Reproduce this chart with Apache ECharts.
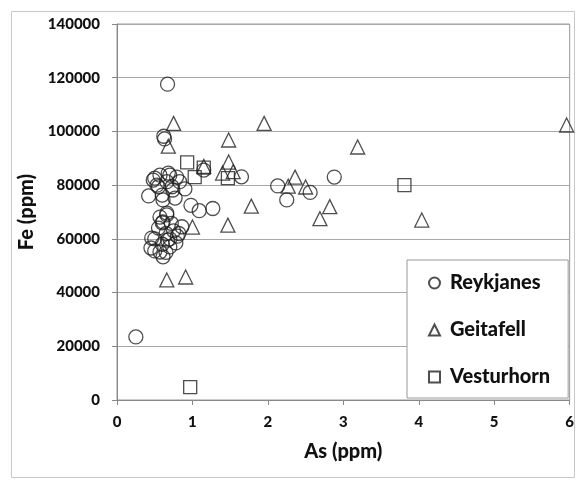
<!DOCTYPE html>
<html>
<head>
<meta charset="utf-8">
<script src="https://cdn.jsdelivr.net/npm/echarts@6/dist/echarts.min.js"></script>
<style>
  html, body { margin: 0; padding: 0; background: #fff; }
  #chart { width: 577px; height: 480px; }
</style>
</head>
<body>
<div id="chart"></div>
<script>
// As (ppm), Fe (ppm)
const reykjanes = [
  [0.25, 23500], [0.67, 117600], [0.62, 98200], [0.63, 97200],
  [0.42, 76000], [0.48, 81900], [0.5, 82600], [0.53, 80000], [0.55, 79400],
  [0.57, 83700], [0.6, 76300], [0.61, 74500], [0.66, 81300], [0.68, 84500],
  [0.7, 83700], [0.73, 79400], [0.74, 78200], [0.77, 75200], [0.79, 83000],
  [0.83, 81300], [0.9, 78600],
  [0.57, 68100], [0.66, 68900], [0.61, 66300], [0.66, 69600],
  [0.98, 72500], [1.09, 70500], [1.27, 71300], [1.15, 85600], [1.65, 83100],
  [2.13, 79700], [2.25, 74500], [2.56, 77300], [2.88, 83000],
  [0.46, 60300], [0.45, 56600], [0.5, 60000], [0.5, 55500], [0.57, 55100],
  [0.61, 53300], [0.6, 58000], [0.65, 62000], [0.7, 60000], [0.75, 63000],
  [0.8, 61000], [0.86, 64500], [0.55, 64000], [0.6, 66000], [0.7, 57000],
  [0.65, 55000], [0.78, 58500], [0.72, 65800], [0.67, 59500], [0.82, 62000]
];
const geitafell = [
  [0.66, 44700], [0.91, 45800], [0.75, 103000], [0.68, 94500], [1.0, 64400],
  [1.15, 87000], [1.48, 96800], [1.48, 88600], [1.4, 84500], [1.54, 85000],
  [1.47, 65100], [1.95, 103000], [1.78, 72200], [2.27, 79600], [2.36, 83000],
  [2.5, 79300], [2.69, 67500], [2.82, 72000], [3.19, 94200], [4.04, 67000],
  [5.96, 102400]
];
const vesturhorn = [
  [0.93, 88500], [1.03, 83000], [1.15, 86500], [1.47, 82600], [3.81, 80000],
  [0.97, 4800]
];
const xTicks = [0, 1, 2, 3, 4, 5, 6];
const yTicks = [0, 20000, 40000, 60000, 80000, 100000, 120000, 140000];

const font = 'Lato, "Open Sans", sans-serif';
const marker = {
  color: 'rgba(255,255,255,0)',
  borderColor: '#222',
  borderWidth: 1.3
};

const chart = echarts.init(document.getElementById('chart'));

chart.setOption({
  animation: false,
  graphic: [{
    type: 'rect',
    shape: { x: 11.5, y: 11.5, width: 563, height: 466 },
    style: { fill: 'none', stroke: '#c8c8c8', lineWidth: 1 },
    silent: true
  }],
  grid: {
    left: 117, right: 7, top: 24, bottom: 80,
    show: true, borderColor: '#999', borderWidth: 1
  },
  xAxis: {
    type: 'value',
    min: xTicks[0], max: xTicks[xTicks.length - 1], interval: 1,
    name: 'As (ppm)',
    nameLocation: 'middle', nameGap: 42,
    nameTextStyle: { fontFamily: font, fontWeight: 900, fontSize: 20, color: '#111' },
    axisLine: { lineStyle: { color: '#888' } },
    axisTick: { length: 5, lineStyle: { color: '#888' } },
    axisLabel: { fontFamily: font, fontWeight: 900, fontSize: 15, color: '#111', margin: 15 },
    splitLine: { show: false }
  },
  yAxis: {
    type: 'value',
    min: yTicks[0], max: yTicks[yTicks.length - 1], interval: 20000,
    name: 'Fe (ppm)',
    nameLocation: 'middle', nameGap: 74,
    nameTextStyle: { fontFamily: font, fontWeight: 900, fontSize: 20, color: '#111' },
    axisLine: { show: true, lineStyle: { color: '#888' } },
    axisTick: { show: true, length: 5, lineStyle: { color: '#888' } },
    axisLabel: {
      fontFamily: font, fontWeight: 900, fontSize: 15, color: '#111', margin: 17,
      formatter: (v) => String(v)
    },
    splitLine: { lineStyle: { color: '#a8a8a8' } }
  },
  legend: {
    orient: 'vertical',
    left: 407, top: 260,
    padding: [13, 18, 11, 21],
    itemGap: 27,
    itemWidth: 11, itemHeight: 11,
    backgroundColor: '#fff',
    borderColor: '#999', borderWidth: 1,
    textStyle: {
      fontFamily: font, fontWeight: 900, fontSize: 20, color: '#111',
      padding: [0, 0, 0, 5]
    },
    data: ['Reykjanes', 'Geitafell', 'Vesturhorn']
  },
  series: [
    { name: 'Reykjanes', type: 'scatter', symbol: 'circle', symbolSize: 14,
      itemStyle: marker, data: reykjanes },
    { name: 'Geitafell', type: 'scatter', symbol: 'triangle', symbolSize: 14,
      itemStyle: marker, data: geitafell },
    { name: 'Vesturhorn', type: 'scatter', symbol: 'rect', symbolSize: 13,
      itemStyle: marker, data: vesturhorn }
  ]
});
</script>
</body>
</html>
